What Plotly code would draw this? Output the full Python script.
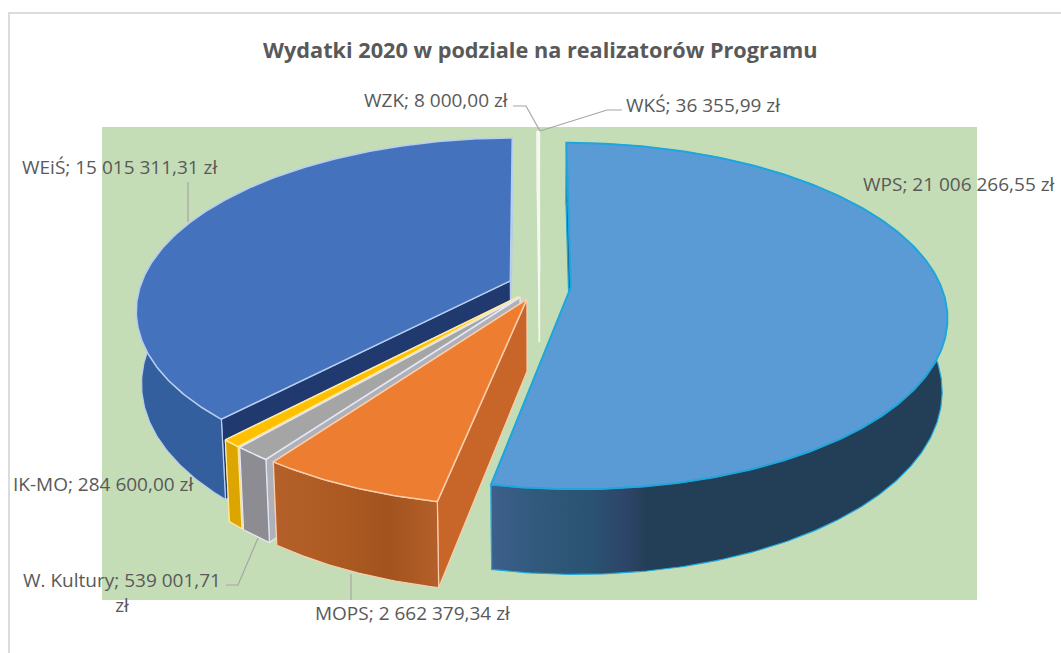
import numpy as np
import plotly.graph_objects as go

# Data, in clockwise order from 12 o'clock
names = ["WPS", "MOPS", "W. Kultury", "IK-MO", "WEiŚ", "WKŚ", "WZK"]
values = [21006266.55, 2662379.34, 539001.71, 284600.00, 15015311.31, 36355.99, 8000.00]
labels = ["WPS; 21 006 266,55 zł", "MOPS; 2 662 379,34 zł", "W. Kultury; 539 001,71<br>zł",
          "IK-MO; 284 600,00 zł", "WEiŚ; 15 015 311,31 zł", "WKŚ; 36 355,99 zł", "WZK; 8 000,00 zł"]
title = "Wydatki 2020 w podziale na realizatorów Programu"

top_colors = ["#5B9BD5", "#ED7D31", "#A5A5A5", "#FFC000", "#4472BD", "#EEF4E8", "#F4F8F0"]
wall_colors = ["#243F58", "#A95A22", "#8C8C92", "#DDA500", "#345F9F", "#E8F0E0", "#E8F0E0"]
side_colors = ["#1C5C86", "#C8662A", "#B0B0B8", "#E8C040", "#203A70", "#E8F0E0", "#E8F0E0"]
edge_colors = ["#1FA6DC", "#F9CFAE", "#E4E8F4", "#FFE9A0", "#B7CEEE", "#F4F8F0", "#F4F8F0"]
paint_order = [5, 6, 4, 3, 2, 1, 0]

# projection of the tilted pie
CX, CY, RX, RY, K, DEPTH, TAPER, EXPLODE = 539.5, 286.0, 370.0, 168.0, 0.165, 71.0, 0.987, 0.085

def project(u, v, z=0.0):
    w = 1 - K * np.asarray(v)
    x = CX + RX * np.asarray(u) / w
    y = CY + (RY * np.asarray(v) + DEPTH * z) / w
    if z:
        x = CX + (x - CX) * TAPER
    return x, y

fractions = np.array(values) / sum(values)
ends = np.cumsum(fractions) * 2 * np.pi
starts = ends - fractions * 2 * np.pi

fig = go.Figure()

def poly(x, y, fill, line=None, width=1.5, name="", gradient=None):
    kw = dict(fillgradient=gradient) if gradient else dict(fillcolor=fill)
    fig.add_trace(go.Scatter(
        x=np.r_[x, x[0]], y=np.r_[y, y[0]], mode="lines", fill="toself", name=name,
        line=dict(color=line or fill, width=width if line else 0), hoverinfo="name",
        showlegend=False, **kw))

wall_gradients = {
    0: dict(type="horizontal", colorscale=[[0, "#3D5F8C"], [0.1, "#31597C"], [0.22, "#2A5272"],
                                           [0.3, "#2E4468"], [0.34, "#233F57"], [1, "#233F57"]]),
    1: dict(type="horizontal", colorscale=[[0, "#B5602A"], [0.4, "#AC5A22"], [0.7, "#A2531E"], [1, "#B5602A"]]),
}

for i in paint_order:
    a, b = starts[i], ends[i]
    mid = (a + b) / 2
    ou, ov = EXPLODE * np.sin(mid), -EXPLODE * np.cos(mid)
    t = np.linspace(a, b, max(3, int((b - a) * 90)))
    us, vs = ou + np.sin(t), ov - np.cos(t)
    name = names[i]
    ax, ay = project(ou, ov)
    axb, ayb = project(ou, ov, 1.0)
    xt, yt = project(us, vs)
    xb, yb = project(us, vs, 1.0)
    # radial walls: end wall first, then start wall
    poly(np.r_[ax, xt[-1], xb[-1], axb], np.r_[ay, yt[-1], yb[-1], ayb], side_colors[i], edge_colors[i], 1.2, name)
    poly(np.r_[ax, xt[0], xb[0], axb], np.r_[ay, yt[0], yb[0], ayb], side_colors[i], edge_colors[i], 1.2, name)
    # outer wall
    poly(np.r_[xt, xb[::-1]], np.r_[yt, yb[::-1]], wall_colors[i], edge_colors[i], 1.2, name,
         gradient=wall_gradients.get(i))
    # top face
    poly(np.r_[ax, xt], np.r_[ay, yt], top_colors[i], edge_colors[i], 2 if i == 0 else 1.5, name)

GREY = "#595959"
FONT = "Open Sans"
label_pos = [(1057, 184, "right"), (512, 613, "right"), (223, 592, "right"), (195, 484, "right"),
             (220, 167, "right"), (624, 105, "left"), (510, 100, "right")]
annotations = [dict(x=540, y=49, text=f"<b>{title}</b>", showarrow=False, xanchor="center", yanchor="middle",
                    font=dict(family=FONT, size=21.7, color=GREY))]
for text, (x, y, anchor) in zip(labels, label_pos):
    annotations.append(dict(x=x, y=y, text=text, showarrow=False, xanchor=anchor, yanchor="middle", align="center",
                            font=dict(family=FONT, size=19, color=GREY)))

def leader(x, y):
    fig.add_trace(go.Scatter(x=x, y=y, mode="lines", line=dict(color="#A6A6A6", width=1.2),
                             hoverinfo="skip", showlegend=False))

leader([513, 526, 540], [106, 106, 131])
leader([540, 607, 622], [131, 110, 110])
leader([188, 188], [182, 222])
leader([351, 351], [574, 600])
leader([226, 238, 258], [585, 585, 538])

fig.update_layout(
    width=1061, height=653, margin=dict(l=0, r=0, t=0, b=0),
    paper_bgcolor="white", plot_bgcolor="white", annotations=annotations,
    xaxis=dict(range=[0, 1061], visible=False, fixedrange=True),
    yaxis=dict(range=[653, 0], visible=False, fixedrange=True),
    shapes=[
        dict(type="rect", layer="below", xref="x", yref="y", x0=9, x1=1075, y0=13, y1=670,
             fillcolor="white", line=dict(color="#DCDCDC", width=2)),
        dict(type="rect", layer="below", xref="x", yref="y", x0=102, x1=977, y0=127, y1=600,
             fillcolor="#C5DDB6", line=dict(width=0)),
    ],
)
fig.write_html("out.html", config={"displayModeBar": False},
               post_script="document.body.style.margin='0';document.body.style.overflow='hidden';")
